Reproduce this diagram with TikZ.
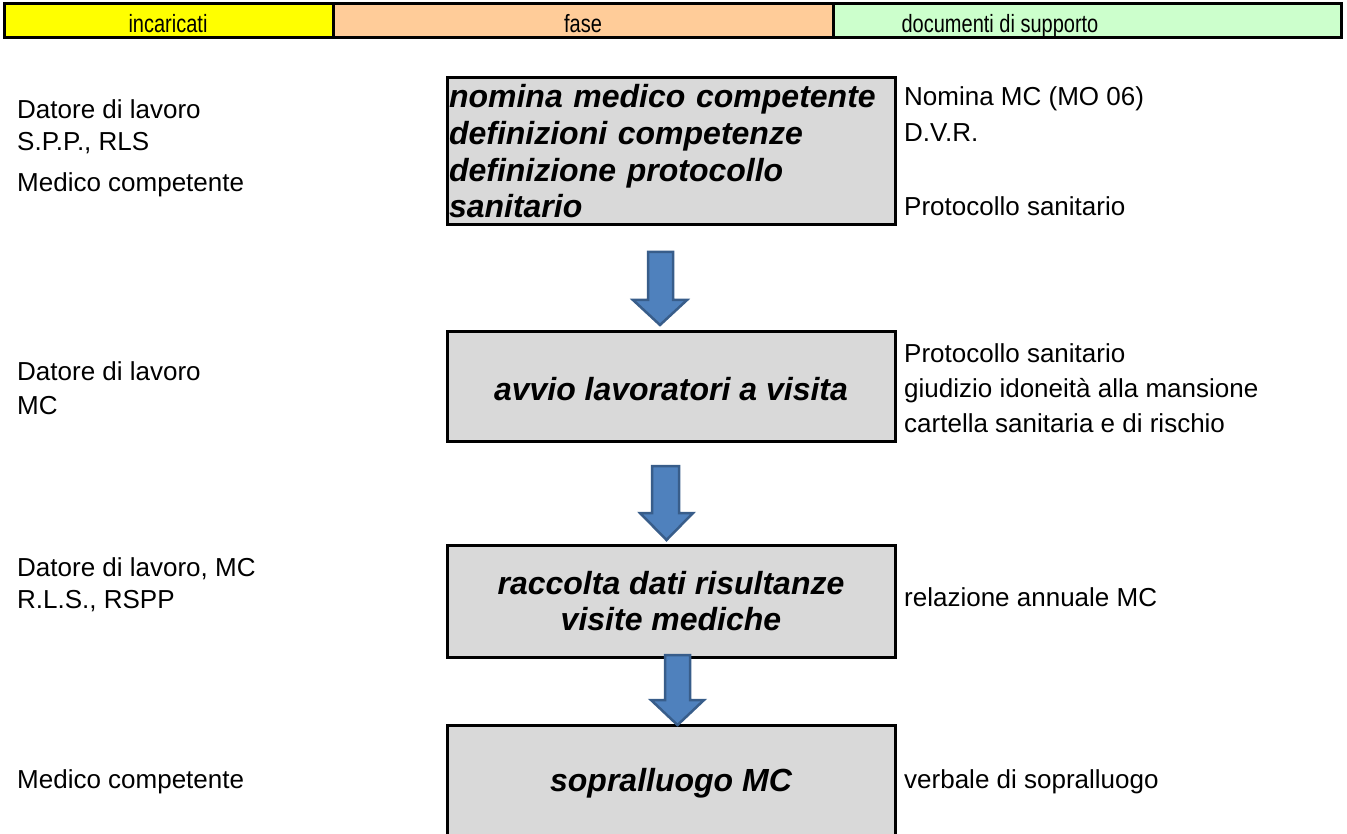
\documentclass[tikz,border=0pt]{standalone}
\usepackage{fontspec}
\setmainfont{Liberation Sans}
\definecolor{hyellow}{HTML}{FFFF00}
\definecolor{hpeach}{HTML}{FFCC99}
\definecolor{hgreen}{HTML}{CCFFCC}
\definecolor{boxgray}{HTML}{D9D9D9}
\definecolor{arrfill}{HTML}{4F81BD}
\definecolor{arredge}{HTML}{385D8A}
\tikzset{
  hcell/.style={draw=black, line width=3pt, inner sep=0pt},
  htext/.style={inner sep=0pt, anchor=base, font=\fontsize{20}{24}\selectfont},
  phase/.style={draw=black, line width=3pt, fill=boxgray, inner sep=2pt,
    font=\fontsize{32}{36.7}\selectfont\bfseries\itshape},
  lbl/.style={inner sep=0pt, anchor=mid west, yshift=-6pt, font=\fontsize{26}{31}\selectfont},
  blockarr/.style={fill=arrfill, draw=arredge, line width=2.5pt, line join=miter}
}
\begin{document}
\begin{tikzpicture}[x=1pt,y=-1pt]
\useasboundingbox (0,0) rectangle (1347,834);
% header
\path[hcell, fill=hyellow] (4,4) rectangle (333,38);
\path[hcell, fill=hpeach] (333,4) rectangle (833,38);
\path[hcell, fill=hgreen] (833,4) rectangle (1341,38);
\node[htext] (h1) at (168,33) {\scalebox{1}[1.25]{incaricati}};
\node[htext] (h2) at (583,33) {\scalebox{1}[1.25]{fase}};
\node[htext] (h3) at (1000,33) {\scalebox{1}[1.25]{documenti di supporto}};
% phase boxes
\node[phase, minimum width=448pt, minimum height=147pt, text width=444pt, align=left] (b1) at (671,151.5)
  {nomina medico competente\\definizioni competenze\\definizione protocollo\\sanitario};
\node[phase, minimum width=448pt, minimum height=109pt] (b2) at (671,386.5) {};
\node[inner sep=0pt, font=\fontsize{32}{36.7}\selectfont\bfseries\itshape] (t2) at (671,389) {avvio lavoratori a visita};
\node[phase, minimum width=448pt, minimum height=112pt, align=center] (b3) at (671,601)
  {raccolta dati risultanze\\visite mediche};
\node[phase, minimum width=448pt, minimum height=125pt] (b4) at (671,787.5) {};
\node[inner sep=0pt, font=\fontsize{32}{36.7}\selectfont\bfseries\itshape] (t4) at (671,783) {sopralluogo MC};
% block arrows
\draw[blockarr] (648,252) -- (673,252) -- (673,300) -- (687,300) -- (660,325) -- (633,300) -- (648,300) -- cycle;
\draw[blockarr] (652,466) -- (679,466) -- (679,513) -- (693,513) -- (666.5,540) -- (640,513) -- (652,513) -- cycle;
\draw[blockarr] (665,655) -- (690,655) -- (690,700) -- (704,700) -- (677.5,725) -- (651,700) -- (665,700) -- cycle;
% left column
\node[lbl] (l1a) at (17,110) {Datore di lavoro};
\node[lbl] (l1b) at (17,142) {S.P.P., RLS};
\node[lbl] (l1c) at (17,183) {Medico competente};
\node[lbl] (l2a) at (17,372) {Datore di lavoro};
\node[lbl] (l2b) at (17,406) {MC};
\node[lbl] (l3a) at (17,568) {Datore di lavoro, MC};
\node[lbl] (l3b) at (17,600) {R.L.S., RSPP};
\node[lbl] (l4a) at (17,780) {Medico competente};
% right column
\node[lbl] (r1a) at (904,97) {Nomina MC (MO 06)};
\node[lbl] (r1b) at (904,133) {D.V.R.};
\node[lbl] (r1c) at (904,207) {Protocollo sanitario};
\node[lbl] (r2a) at (904,354) {Protocollo sanitario};
\node[lbl] (r2b) at (904,389) {giudizio idoneità alla mansione};
\node[lbl] (r2c) at (904,424) {cartella sanitaria e di rischio};
\node[lbl] (r3a) at (904,598) {relazione annuale MC};
\node[lbl] (r4a) at (904,780) {verbale di sopralluogo};
\end{tikzpicture}
\end{document}
